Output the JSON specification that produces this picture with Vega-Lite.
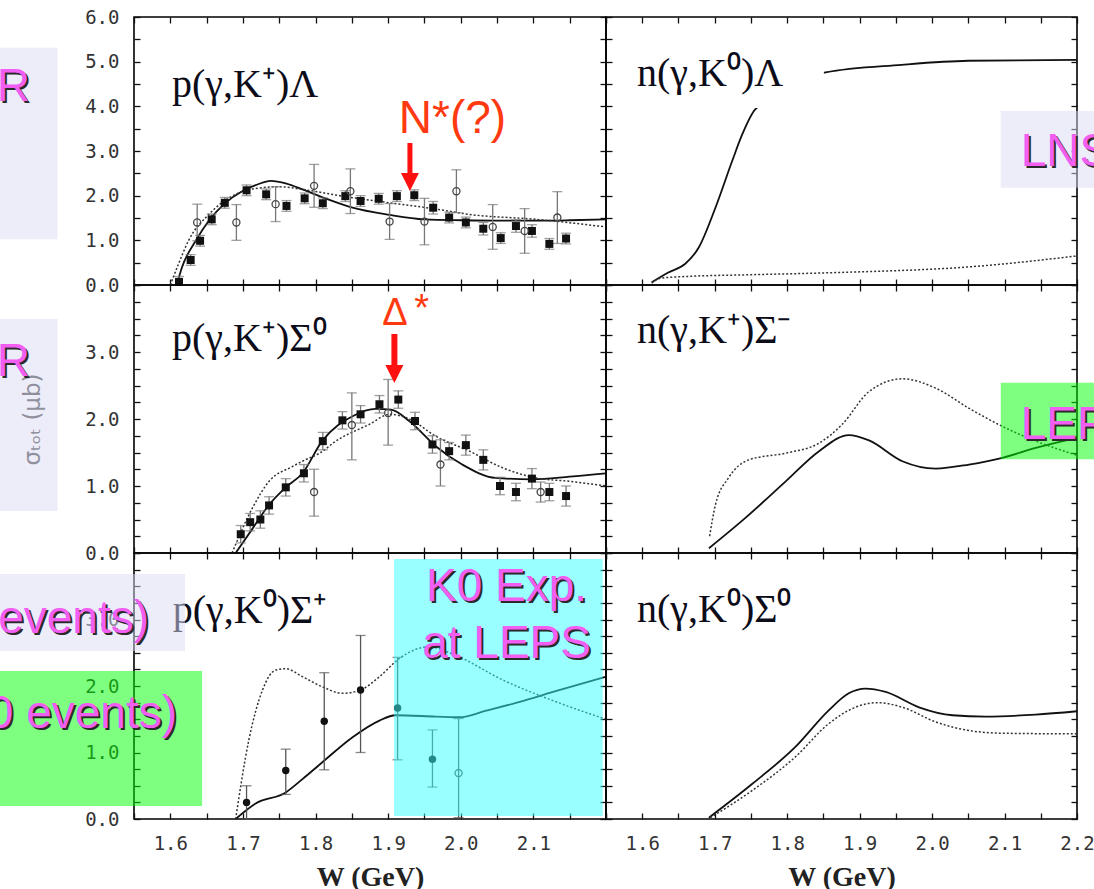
{
"$schema": "https://vega.github.io/schema/vega-lite/v6.json",
"background": "#ffffff",
"padding": {"left": -30, "top": -20, "right": -56, "bottom": -61},
"bounds": "flush",
"spacing": 0,
"columns": 2,
"config": {
  "view": {"stroke": "#000000", "strokeWidth": 1.6},
  "axis": {"domain": false, "grid": false, "ticks": true, "tickSize": -6, "tickColor": "#111111", "tickWidth": 1.3, "labelFont": "DejaVu Sans Mono", "labelFontSize": 19, "labelColor": "#333333", "labelPadding": 21, "labelFlush": false, "labelOverlap": false, "titleFont": "Liberation Serif", "titleFontSize": 28, "titleFontWeight": "bold", "titleColor": "#222222", "titlePadding": 10, "zindex": 0}
},
"datasets": {
"curves": [
{"p":"TL","k":"s","W":1.609,"s":0},{"p":"TL","k":"s","W":1.616,"s":0.39},{"p":"TL","k":"s","W":1.635,"s":0.99},{"p":"TL","k":"s","W":1.653,"s":1.44},{"p":"TL","k":"s","W":1.676,"s":1.84},{"p":"TL","k":"s","W":1.699,"s":2.10},{"p":"TL","k":"s","W":1.72,"s":2.25},{"p":"TL","k":"s","W":1.738,"s":2.33},{"p":"TL","k":"s","W":1.76,"s":2.27},{"p":"TL","k":"s","W":1.782,"s":2.14},{"p":"TL","k":"s","W":1.815,"s":1.93},{"p":"TL","k":"s","W":1.851,"s":1.73},{"p":"TL","k":"s","W":1.902,"s":1.57},{"p":"TL","k":"s","W":1.95,"s":1.47},{"p":"TL","k":"s","W":2.002,"s":1.45},{"p":"TL","k":"s","W":2.058,"s":1.44},{"p":"TL","k":"s","W":2.104,"s":1.44},{"p":"TL","k":"s","W":2.15,"s":1.45},{"p":"TL","k":"s","W":2.2,"s":1.47},
{"p":"TL","k":"d","W":1.6,"s":0},{"p":"TL","k":"d","W":1.612,"s":0.5},{"p":"TL","k":"d","W":1.625,"s":0.99},{"p":"TL","k":"d","W":1.653,"s":1.58},{"p":"TL","k":"d","W":1.69,"s":2.03},{"p":"TL","k":"d","W":1.727,"s":2.18},{"p":"TL","k":"d","W":1.75,"s":2.2},{"p":"TL","k":"d","W":1.782,"s":2.14},{"p":"TL","k":"d","W":1.837,"s":1.99},{"p":"TL","k":"d","W":1.902,"s":1.84},{"p":"TL","k":"d","W":1.966,"s":1.70},{"p":"TL","k":"d","W":2.012,"s":1.58},{"p":"TL","k":"d","W":2.104,"s":1.47},{"p":"TL","k":"d","W":2.2,"s":1.30},
{"p":"TR","k":"s","W":1.613,"s":0.06},{"p":"TR","k":"s","W":1.636,"s":0.28},{"p":"TR","k":"s","W":1.659,"s":0.47},{"p":"TR","k":"s","W":1.678,"s":0.84},{"p":"TR","k":"s","W":1.701,"s":1.73},{"p":"TR","k":"s","W":1.724,"s":2.77},{"p":"TR","k":"s","W":1.738,"s":3.37},{"p":"TR","k":"s","W":1.756,"s":3.93},{"p":"TR","k":"s","W":1.853,"s":4.76},{"p":"TR","k":"s","W":1.958,"s":4.93},{"p":"TR","k":"s","W":2.05,"s":5.02},{"p":"TR","k":"s","W":2.2,"s":5.04},
{"p":"TR","k":"d","W":1.613,"s":0.04},{"p":"TR","k":"d","W":1.625,"s":0.15},{"p":"TR","k":"d","W":1.66,"s":0.19},{"p":"TR","k":"d","W":1.75,"s":0.23},{"p":"TR","k":"d","W":1.871,"s":0.28},{"p":"TR","k":"d","W":2.055,"s":0.41},{"p":"TR","k":"d","W":2.2,"s":0.65},
{"p":"ML","k":"s","W":1.69,"s":0},{"p":"ML","k":"s","W":1.713,"s":0.36},{"p":"ML","k":"s","W":1.736,"s":0.72},{"p":"ML","k":"s","W":1.759,"s":0.98},{"p":"ML","k":"s","W":1.782,"s":1.19},{"p":"ML","k":"s","W":1.809,"s":1.67},{"p":"ML","k":"s","W":1.851,"s":2.04},{"p":"ML","k":"s","W":1.883,"s":2.15},{"p":"ML","k":"s","W":1.904,"s":2.14},{"p":"ML","k":"s","W":1.929,"s":1.97},{"p":"ML","k":"s","W":1.966,"s":1.59},{"p":"ML","k":"s","W":2.002,"s":1.32},{"p":"ML","k":"s","W":2.048,"s":1.12},{"p":"ML","k":"s","W":2.099,"s":1.10},{"p":"ML","k":"s","W":2.15,"s":1.14},{"p":"ML","k":"s","W":2.2,"s":1.19},
{"p":"ML","k":"d","W":1.685,"s":0},{"p":"ML","k":"d","W":1.713,"s":0.67},{"p":"ML","k":"d","W":1.736,"s":1.07},{"p":"ML","k":"d","W":1.768,"s":1.29},{"p":"ML","k":"d","W":1.782,"s":1.37},{"p":"ML","k":"d","W":1.807,"s":1.5},{"p":"ML","k":"d","W":1.828,"s":1.67},{"p":"ML","k":"d","W":1.874,"s":1.92},{"p":"ML","k":"d","W":1.902,"s":2.07},{"p":"ML","k":"d","W":1.929,"s":2.0},{"p":"ML","k":"d","W":1.966,"s":1.74},{"p":"ML","k":"d","W":2.012,"s":1.52},{"p":"ML","k":"d","W":2.058,"s":1.27},{"p":"ML","k":"d","W":2.104,"s":1.12},{"p":"ML","k":"d","W":2.15,"s":1.07},{"p":"ML","k":"d","W":2.2,"s":1.0},
{"p":"MR","k":"s","W":1.692,"s":0.07},{"p":"MR","k":"s","W":1.742,"s":0.52},{"p":"MR","k":"s","W":1.798,"s":1.07},{"p":"MR","k":"s","W":1.844,"s":1.52},{"p":"MR","k":"s","W":1.885,"s":1.76},{"p":"MR","k":"s","W":1.913,"s":1.68},{"p":"MR","k":"s","W":1.959,"s":1.37},{"p":"MR","k":"s","W":2.005,"s":1.26},{"p":"MR","k":"s","W":2.051,"s":1.32},{"p":"MR","k":"s","W":2.097,"s":1.42},{"p":"MR","k":"s","W":2.143,"s":1.57},{"p":"MR","k":"s","W":2.2,"s":1.72},
{"p":"MR","k":"d","W":1.693,"s":0.25},{"p":"MR","k":"d","W":1.701,"s":0.72},{"p":"MR","k":"d","W":1.719,"s":1.12},{"p":"MR","k":"d","W":1.747,"s":1.39},{"p":"MR","k":"d","W":1.798,"s":1.49},{"p":"MR","k":"d","W":1.844,"s":1.64},{"p":"MR","k":"d","W":1.876,"s":1.92},{"p":"MR","k":"d","W":1.913,"s":2.41},{"p":"MR","k":"d","W":1.959,"s":2.6},{"p":"MR","k":"d","W":2.005,"s":2.46},{"p":"MR","k":"d","W":2.051,"s":2.16},{"p":"MR","k":"d","W":2.097,"s":1.89},{"p":"MR","k":"d","W":2.143,"s":1.67},{"p":"MR","k":"d","W":2.2,"s":1.46},
{"p":"BL","k":"s","W":1.69,"s":0},{"p":"BL","k":"s","W":1.717,"s":0.23},{"p":"BL","k":"s","W":1.759,"s":0.40},{"p":"BL","k":"s","W":1.782,"s":0.60},{"p":"BL","k":"s","W":1.809,"s":0.85},{"p":"BL","k":"s","W":1.851,"s":1.23},{"p":"BL","k":"s","W":1.888,"s":1.48},{"p":"BL","k":"s","W":1.91,"s":1.56},{"p":"BL","k":"s","W":1.966,"s":1.54},{"p":"BL","k":"s","W":1.998,"s":1.53},{"p":"BL","k":"s","W":2.035,"s":1.63},{"p":"BL","k":"s","W":2.081,"s":1.76},{"p":"BL","k":"s","W":2.127,"s":1.91},{"p":"BL","k":"s","W":2.2,"s":2.14},
{"p":"BL","k":"d","W":1.69,"s":0},{"p":"BL","k":"d","W":1.708,"s":1.18},{"p":"BL","k":"d","W":1.727,"s":1.94},{"p":"BL","k":"d","W":1.745,"s":2.24},{"p":"BL","k":"d","W":1.759,"s":2.26},{"p":"BL","k":"d","W":1.782,"s":2.14},{"p":"BL","k":"d","W":1.809,"s":1.99},{"p":"BL","k":"d","W":1.837,"s":1.89},{"p":"BL","k":"d","W":1.862,"s":1.94},{"p":"BL","k":"d","W":1.888,"s":2.14},{"p":"BL","k":"d","W":1.915,"s":2.41},{"p":"BL","k":"d","W":1.956,"s":2.59},{"p":"BL","k":"d","W":1.993,"s":2.46},{"p":"BL","k":"d","W":2.058,"s":2.09},{"p":"BL","k":"d","W":2.127,"s":1.78},{"p":"BL","k":"d","W":2.2,"s":1.5},
{"p":"BR","k":"s","W":1.692,"s":0.02},{"p":"BR","k":"s","W":1.752,"s":0.53},{"p":"BR","k":"s","W":1.811,"s":1.08},{"p":"BR","k":"s","W":1.857,"s":1.63},{"p":"BR","k":"s","W":1.885,"s":1.89},{"p":"BR","k":"s","W":1.908,"s":1.96},{"p":"BR","k":"s","W":1.936,"s":1.91},{"p":"BR","k":"s","W":1.982,"s":1.68},{"p":"BR","k":"s","W":2.028,"s":1.56},{"p":"BR","k":"s","W":2.074,"s":1.54},{"p":"BR","k":"s","W":2.143,"s":1.57},{"p":"BR","k":"s","W":2.2,"s":1.62},
{"p":"BR","k":"d","W":1.694,"s":0.02},{"p":"BR","k":"d","W":1.752,"s":0.43},{"p":"BR","k":"d","W":1.811,"s":0.93},{"p":"BR","k":"d","W":1.857,"s":1.43},{"p":"BR","k":"d","W":1.894,"s":1.68},{"p":"BR","k":"d","W":1.925,"s":1.75},{"p":"BR","k":"d","W":1.959,"s":1.68},{"p":"BR","k":"d","W":2.005,"s":1.46},{"p":"BR","k":"d","W":2.051,"s":1.33},{"p":"BR","k":"d","W":2.097,"s":1.29},{"p":"BR","k":"d","W":2.2,"s":1.28}
],
"pts": [
{"p":"TL","t":"f","W":1.612,"s":0.07,"lo":0,"hi":0.19},{"p":"TL","t":"f","W":1.628,"s":0.56,"lo":0.44,"hi":0.68},{"p":"TL","t":"f","W":1.641,"s":0.99,"lo":0.87,"hi":1.11},{"p":"TL","t":"f","W":1.657,"s":1.47,"lo":1.35,"hi":1.59},{"p":"TL","t":"f","W":1.675,"s":1.84,"lo":1.72,"hi":1.96},{"p":"TL","t":"f","W":1.705,"s":2.12,"lo":2.0,"hi":2.24},{"p":"TL","t":"f","W":1.732,"s":2.03,"lo":1.91,"hi":2.15},{"p":"TL","t":"f","W":1.76,"s":1.77,"lo":1.65,"hi":1.89},{"p":"TL","t":"f","W":1.785,"s":1.94,"lo":1.82,"hi":2.06},{"p":"TL","t":"f","W":1.81,"s":1.83,"lo":1.71,"hi":1.95},{"p":"TL","t":"f","W":1.841,"s":1.99,"lo":1.87,"hi":2.11},{"p":"TL","t":"f","W":1.862,"s":1.88,"lo":1.76,"hi":2.0},{"p":"TL","t":"f","W":1.887,"s":1.93,"lo":1.81,"hi":2.05},{"p":"TL","t":"f","W":1.912,"s":1.99,"lo":1.87,"hi":2.11},{"p":"TL","t":"f","W":1.936,"s":2.01,"lo":1.89,"hi":2.13},{"p":"TL","t":"f","W":1.962,"s":1.73,"lo":1.59,"hi":1.87},{"p":"TL","t":"f","W":1.984,"s":1.51,"lo":1.39,"hi":1.63},{"p":"TL","t":"f","W":2.007,"s":1.4,"lo":1.28,"hi":1.52},{"p":"TL","t":"f","W":2.031,"s":1.26,"lo":1.12,"hi":1.4},{"p":"TL","t":"f","W":2.055,"s":1.05,"lo":0.93,"hi":1.17},{"p":"TL","t":"f","W":2.076,"s":1.32,"lo":1.18,"hi":1.46},{"p":"TL","t":"f","W":2.098,"s":1.21,"lo":1.07,"hi":1.35},{"p":"TL","t":"f","W":2.122,"s":0.92,"lo":0.8,"hi":1.04},{"p":"TL","t":"f","W":2.145,"s":1.04,"lo":0.92,"hi":1.16},
{"p":"TL","t":"o","W":1.637,"s":1.4,"lo":0.99,"hi":1.81},{"p":"TL","t":"o","W":1.691,"s":1.4,"lo":1.0,"hi":1.8},{"p":"TL","t":"o","W":1.745,"s":1.81,"lo":1.42,"hi":2.2},{"p":"TL","t":"o","W":1.798,"s":2.22,"lo":1.74,"hi":2.7},{"p":"TL","t":"o","W":1.848,"s":2.1,"lo":1.6,"hi":2.6},{"p":"TL","t":"o","W":1.902,"s":1.42,"lo":1.02,"hi":1.82},{"p":"TL","t":"o","W":1.95,"s":1.42,"lo":0.9,"hi":1.94},{"p":"TL","t":"o","W":1.994,"s":2.1,"lo":1.62,"hi":2.58},{"p":"TL","t":"o","W":2.044,"s":1.3,"lo":0.8,"hi":1.8},{"p":"TL","t":"o","W":2.088,"s":1.21,"lo":0.71,"hi":1.71},{"p":"TL","t":"o","W":2.133,"s":1.51,"lo":0.93,"hi":2.09},
{"p":"ML","t":"f","W":1.697,"s":0.28,"lo":0.15,"hi":0.41},{"p":"ML","t":"f","W":1.71,"s":0.46,"lo":0.33,"hi":0.59},{"p":"ML","t":"f","W":1.724,"s":0.5,"lo":0.37,"hi":0.63},{"p":"ML","t":"f","W":1.736,"s":0.71,"lo":0.58,"hi":0.84},{"p":"ML","t":"f","W":1.759,"s":0.98,"lo":0.85,"hi":1.11},{"p":"ML","t":"f","W":1.784,"s":1.19,"lo":1.06,"hi":1.32},{"p":"ML","t":"f","W":1.81,"s":1.67,"lo":1.54,"hi":1.8},{"p":"ML","t":"f","W":1.837,"s":1.98,"lo":1.85,"hi":2.11},{"p":"ML","t":"f","W":1.862,"s":2.07,"lo":1.94,"hi":2.2},{"p":"ML","t":"f","W":1.888,"s":2.22,"lo":2.09,"hi":2.35},{"p":"ML","t":"f","W":1.914,"s":2.29,"lo":2.16,"hi":2.42},{"p":"ML","t":"f","W":1.937,"s":1.97,"lo":1.84,"hi":2.1},{"p":"ML","t":"f","W":1.961,"s":1.62,"lo":1.49,"hi":1.75},{"p":"ML","t":"f","W":1.984,"s":1.52,"lo":1.39,"hi":1.65},{"p":"ML","t":"f","W":2.007,"s":1.61,"lo":1.46,"hi":1.76},{"p":"ML","t":"f","W":2.031,"s":1.39,"lo":1.24,"hi":1.54},{"p":"ML","t":"f","W":2.054,"s":1.0,"lo":0.87,"hi":1.13},{"p":"ML","t":"f","W":2.076,"s":0.91,"lo":0.78,"hi":1.04},{"p":"ML","t":"f","W":2.098,"s":1.11,"lo":0.96,"hi":1.26},{"p":"ML","t":"f","W":2.122,"s":0.91,"lo":0.78,"hi":1.04},{"p":"ML","t":"f","W":2.145,"s":0.85,"lo":0.7,"hi":1.0},
{"p":"ML","t":"o","W":1.798,"s":0.91,"lo":0.55,"hi":1.25},{"p":"ML","t":"o","W":1.85,"s":1.91,"lo":1.39,"hi":2.39},{"p":"ML","t":"o","W":1.9,"s":2.09,"lo":1.61,"hi":2.59},{"p":"ML","t":"o","W":1.972,"s":1.32,"lo":1.0,"hi":1.69},{"p":"ML","t":"o","W":2.11,"s":0.91,"lo":0.76,"hi":1.06},
{"p":"BL","t":"c","W":1.705,"s":0.25,"lo":0,"hi":0.5},{"p":"BL","t":"c","W":1.759,"s":0.73,"lo":0.37,"hi":1.05},{"p":"BL","t":"c","W":1.812,"s":1.47,"lo":0.74,"hi":2.2},{"p":"BL","t":"c","W":1.862,"s":1.94,"lo":1.0,"hi":2.76},{"p":"BL","t":"c","W":1.913,"s":1.67,"lo":0.89,"hi":2.43},{"p":"BL","t":"c","W":1.961,"s":0.9,"lo":0.48,"hi":1.34},{"p":"BL","t":"o","W":1.997,"s":0.69,"lo":0.02,"hi":1.51}
]
},
"concat": [
{
"width": 472, "height": 268,
"resolve": {"axis": {"x": "independent", "y": "independent"}},
"layer": [
{"data":{"values":[{"W":1.6,"s":0}]},"mark":{"type":"point","opacity":0},"encoding":{"x":{"field":"W","type":"quantitative","scale":{"domain":[1.55,2.2]},"axis":{"orient":"bottom","values":[1.55,1.6,1.65,1.7,1.75,1.8,1.85,1.9,1.95,2,2.05,2.1,2.15,2.2],"labels":false,"title":null}},"y":{"field":"s","type":"quantitative","scale":{"domain":[0,6]},"axis":{"orient":"left","values":[0,0.5,1,1.5,2,2.5,3,3.5,4,4.5,5,5.5,6],"labelExpr":"abs(datum.value-round(datum.value))<0.01 ? format(datum.value,'.1f') : ''","title":null}}}},
{"data":{"values":[{"W":1.6,"s":0}]},"mark":{"type":"point","opacity":0},"encoding":{"x":{"field":"W","type":"quantitative","scale":{"domain":[1.55,2.2]},"axis":{"orient":"top","values":[1.55,1.6,1.65,1.7,1.75,1.8,1.85,1.9,1.95,2,2.05,2.1,2.15,2.2],"labels":false,"title":null}},"y":{"field":"s","type":"quantitative","scale":{"domain":[0,6]},"axis":{"orient":"right","values":[0,0.5,1,1.5,2,2.5,3,3.5,4,4.5,5,5.5,6],"labels":false,"title":null}}}},
{"data":{"name":"curves"},"transform":[{"filter":"datum.p=='TL'&&datum.k=='s'"}],"mark":{"type":"line","color":"#111111","strokeWidth":1.8,"interpolate":"monotone"},"encoding":{"x":{"field":"W","type":"quantitative","scale":{"domain":[1.55,2.2]},"axis":null},"y":{"field":"s","type":"quantitative","scale":{"domain":[0,6]},"axis":null}}},
{"data":{"name":"curves"},"transform":[{"filter":"datum.p=='TL'&&datum.k=='d'"}],"mark":{"type":"line","color":"#333333","strokeWidth":1.5,"strokeDash":[2,2],"interpolate":"monotone"},"encoding":{"x":{"field":"W","type":"quantitative","scale":{"domain":[1.55,2.2]},"axis":null},"y":{"field":"s","type":"quantitative","scale":{"domain":[0,6]},"axis":null}}},
{"data":{"name":"pts"},"transform":[{"filter":"datum.p=='TL'"}],"mark":{"type":"errorbar","ticks":true,"size":10,"thickness":1.3,"color":"#777777"},"encoding":{"x":{"field":"W","type":"quantitative","scale":{"domain":[1.55,2.2]},"axis":null},"y":{"field":"lo","type":"quantitative","scale":{"domain":[0,6]},"axis":null},"y2":{"field":"hi"}}},
{"data":{"name":"pts"},"transform":[{"filter":"datum.p=='TL'&&datum.t=='f'"}],"mark":{"type":"square","size":64,"color":"#111111","opacity":1},"encoding":{"x":{"field":"W","type":"quantitative","scale":{"domain":[1.55,2.2]},"axis":null},"y":{"field":"s","type":"quantitative","scale":{"domain":[0,6]},"axis":null}}},
{"data":{"name":"pts"},"transform":[{"filter":"datum.p=='TL'&&datum.t=='o'"}],"mark":{"type":"point","shape":"circle","filled":false,"size":50,"color":"#444444","strokeWidth":1.3,"opacity":1},"encoding":{"x":{"field":"W","type":"quantitative","scale":{"domain":[1.55,2.2]},"axis":null},"y":{"field":"s","type":"quantitative","scale":{"domain":[0,6]},"axis":null}}},
{"data":{"values":[{"W":1.6024,"s":4.209,"t":"p(γ,K⁺)Λ"}]},"mark":{"type":"text","font":"Liberation Serif","fontSize":40,"align":"left","baseline":"alphabetic","color":"#0d0d1a"},"encoding":{"x":{"field":"W","type":"quantitative","scale":{"domain":[1.55,2.2]},"axis":null},"y":{"field":"s","type":"quantitative","scale":{"domain":[0,6]},"axis":null},"text":{"field":"t"}}},
{"data":{"values":[{"W":1.9886,"s":3.403,"t":"N*(?)"}]},"mark":{"type":"text","font":"Liberation Sans","fontSize":46,"align":"center","baseline":"alphabetic","color":"#ff3a10"},"encoding":{"x":{"field":"W","type":"quantitative","scale":{"domain":[1.55,2.2]},"axis":null},"y":{"field":"s","type":"quantitative","scale":{"domain":[0,6]},"axis":null},"text":{"field":"t"}}},
{"data":{"values":[{"W":1.93,"s":3.179,"s2":2.418}]},"mark":{"type":"rule","color":"#ff1010","strokeWidth":5},"encoding":{"x":{"field":"W","type":"quantitative","scale":{"domain":[1.55,2.2]},"axis":null},"y":{"field":"s","type":"quantitative","scale":{"domain":[0,6]},"axis":null},"y2":{"field":"s2"}}},
{"data":{"values":[{"W":1.93,"s":2.306}]},"mark":{"type":"point","shape":"M-1,-1L1,-1L0,1Z","filled":true,"size":324,"color":"#ff1010","opacity":1},"encoding":{"x":{"field":"W","type":"quantitative","scale":{"domain":[1.55,2.2]},"axis":null},"y":{"field":"s","type":"quantitative","scale":{"domain":[0,6]},"axis":null}}},
{"data":{"values":[{"W":1.3266,"W2":1.4448,"s":5.313,"s2":1.023}]},"mark":{"type":"rect","color":"#dcdcf5","opacity":0.5},"encoding":{"x":{"field":"W","type":"quantitative","scale":{"domain":[1.55,2.2]},"axis":null},"x2":{"field":"W2"},"y":{"field":"s","type":"quantitative","scale":{"domain":[0,6]},"axis":null},"y2":{"field":"s2"}}},
{"data":{"values":[{"W":1.361,"s":4.119,"t":"R"}]},"mark":{"type":"text","font":"Liberation Sans","fontSize":46,"align":"left","baseline":"alphabetic","color":"#2a2a2a","dx":2,"dy":2},"encoding":{"x":{"field":"W","type":"quantitative","scale":{"domain":[1.55,2.2]},"axis":null},"y":{"field":"s","type":"quantitative","scale":{"domain":[0,6]},"axis":null},"text":{"field":"t"}}},
{"data":{"values":[{"W":1.361,"s":4.119,"t":"R"}]},"mark":{"type":"text","font":"Liberation Sans","fontSize":46,"align":"left","baseline":"alphabetic","color":"#f25ef2"},"encoding":{"x":{"field":"W","type":"quantitative","scale":{"domain":[1.55,2.2]},"axis":null},"y":{"field":"s","type":"quantitative","scale":{"domain":[0,6]},"axis":null},"text":{"field":"t"}}},
{"data":{"values":[{"W":1.6,"W2":1.7,"s":6.806,"s2":6.358}]},"mark":{"type":"rect","opacity":0},"encoding":{"x":{"field":"W","type":"quantitative","scale":{"domain":[1.55,2.2]},"axis":null},"x2":{"field":"W2"},"y":{"field":"s","type":"quantitative","scale":{"domain":[0,6]},"axis":null},"y2":{"field":"s2"}}}
]
},
{
"width": 471, "height": 268,
"resolve": {"axis": {"x": "independent", "y": "independent"}},
"layer": [
{"data":{"values":[{"W":1.6,"s":0}]},"mark":{"type":"point","opacity":0},"encoding":{"x":{"field":"W","type":"quantitative","scale":{"domain":[1.55,2.2]},"axis":{"orient":"bottom","values":[1.55,1.6,1.65,1.7,1.75,1.8,1.85,1.9,1.95,2,2.05,2.1,2.15,2.2],"labels":false,"title":null}},"y":{"field":"s","type":"quantitative","scale":{"domain":[0,6]},"axis":{"orient":"left","values":[0,0.5,1,1.5,2,2.5,3,3.5,4,4.5,5,5.5,6],"labels":false,"title":null}}}},
{"data":{"values":[{"W":1.6,"s":0}]},"mark":{"type":"point","opacity":0},"encoding":{"x":{"field":"W","type":"quantitative","scale":{"domain":[1.55,2.2]},"axis":{"orient":"top","values":[1.55,1.6,1.65,1.7,1.75,1.8,1.85,1.9,1.95,2,2.05,2.1,2.15,2.2],"labels":false,"title":null}},"y":{"field":"s","type":"quantitative","scale":{"domain":[0,6]},"axis":{"orient":"right","values":[0,0.5,1,1.5,2,2.5,3,3.5,4,4.5,5,5.5,6],"labels":false,"title":null}}}},
{"data":{"name":"curves"},"transform":[{"filter":"datum.p=='TR'&&datum.k=='s'"}],"mark":{"type":"line","color":"#111111","strokeWidth":1.8,"interpolate":"monotone"},"encoding":{"x":{"field":"W","type":"quantitative","scale":{"domain":[1.55,2.2]},"axis":null},"y":{"field":"s","type":"quantitative","scale":{"domain":[0,6]},"axis":null}}},
{"data":{"name":"curves"},"transform":[{"filter":"datum.p=='TR'&&datum.k=='d'"}],"mark":{"type":"line","color":"#333333","strokeWidth":1.5,"strokeDash":[2,2],"interpolate":"monotone"},"encoding":{"x":{"field":"W","type":"quantitative","scale":{"domain":[1.55,2.2]},"axis":null},"y":{"field":"s","type":"quantitative","scale":{"domain":[0,6]},"axis":null}}},
{"data":{"values":[{"W":1.5859,"W2":1.8507,"s":5.127,"s2":3.963}]},"mark":{"type":"rect","color":"#ffffff"},"encoding":{"x":{"field":"W","type":"quantitative","scale":{"domain":[1.55,2.2]},"axis":null},"x2":{"field":"W2"},"y":{"field":"s","type":"quantitative","scale":{"domain":[0,6]},"axis":null},"y2":{"field":"s2"}}},
{"data":{"values":[{"W":1.5928,"s":4.455,"t":"n(γ,K⁰)Λ"}]},"mark":{"type":"text","font":"Liberation Serif","fontSize":40,"align":"left","baseline":"alphabetic","color":"#0d0d1a"},"encoding":{"x":{"field":"W","type":"quantitative","scale":{"domain":[1.55,2.2]},"axis":null},"y":{"field":"s","type":"quantitative","scale":{"domain":[0,6]},"axis":null},"text":{"field":"t"}}},
{"data":{"values":[{"W":2.0948,"W2":2.3031,"s":3.896,"s2":2.178}]},"mark":{"type":"rect","color":"#dcdcf5","opacity":0.5},"encoding":{"x":{"field":"W","type":"quantitative","scale":{"domain":[1.55,2.2]},"axis":null},"x2":{"field":"W2"},"y":{"field":"s","type":"quantitative","scale":{"domain":[0,6]},"axis":null},"y2":{"field":"s2"}}},
{"data":{"values":[{"W":2.1224,"s":2.664,"t":"LNS"}]},"mark":{"type":"text","font":"Liberation Sans","fontSize":46,"align":"left","baseline":"alphabetic","color":"#2a2a2a","dx":2,"dy":2},"encoding":{"x":{"field":"W","type":"quantitative","scale":{"domain":[1.55,2.2]},"axis":null},"y":{"field":"s","type":"quantitative","scale":{"domain":[0,6]},"axis":null},"text":{"field":"t"}}},
{"data":{"values":[{"W":2.1224,"s":2.664,"t":"LNS"}]},"mark":{"type":"text","font":"Liberation Sans","fontSize":46,"align":"left","baseline":"alphabetic","color":"#f25ef2"},"encoding":{"x":{"field":"W","type":"quantitative","scale":{"domain":[1.55,2.2]},"axis":null},"y":{"field":"s","type":"quantitative","scale":{"domain":[0,6]},"axis":null},"text":{"field":"t"}}}
]
},
{
"width": 472, "height": 268,
"resolve": {"axis": {"x": "independent", "y": "independent"}},
"layer": [
{"data":{"values":[{"W":1.6,"s":0}]},"mark":{"type":"point","opacity":0},"encoding":{"x":{"field":"W","type":"quantitative","scale":{"domain":[1.55,2.2]},"axis":{"orient":"bottom","values":[1.55,1.6,1.65,1.7,1.75,1.8,1.85,1.9,1.95,2,2.05,2.1,2.15,2.2],"labels":false,"title":null}},"y":{"field":"s","type":"quantitative","scale":{"domain":[0,4]},"axis":{"orient":"left","values":[0,0.25,0.5,0.75,1,1.25,1.5,1.75,2,2.25,2.5,2.75,3,3.25,3.5,3.75,4],"labelExpr":"datum.value<3.5 && abs(datum.value-round(datum.value))<0.01 ? format(datum.value,'.1f') : ''","title":"σₜₒₜ (μb)","titleFont":"DejaVu Sans","titleFontSize":23,"titleFontWeight":"normal","titleColor":"#444444","titlePadding":40}}}},
{"data":{"values":[{"W":1.6,"s":0}]},"mark":{"type":"point","opacity":0},"encoding":{"x":{"field":"W","type":"quantitative","scale":{"domain":[1.55,2.2]},"axis":{"orient":"top","values":[1.55,1.6,1.65,1.7,1.75,1.8,1.85,1.9,1.95,2,2.05,2.1,2.15,2.2],"labels":false,"title":null}},"y":{"field":"s","type":"quantitative","scale":{"domain":[0,4]},"axis":{"orient":"right","values":[0,0.25,0.5,0.75,1,1.25,1.5,1.75,2,2.25,2.5,2.75,3,3.25,3.5,3.75,4],"labels":false,"title":null}}}},
{"data":{"name":"curves"},"transform":[{"filter":"datum.p=='ML'&&datum.k=='s'"}],"mark":{"type":"line","color":"#111111","strokeWidth":1.8,"interpolate":"monotone"},"encoding":{"x":{"field":"W","type":"quantitative","scale":{"domain":[1.55,2.2]},"axis":null},"y":{"field":"s","type":"quantitative","scale":{"domain":[0,4]},"axis":null}}},
{"data":{"name":"curves"},"transform":[{"filter":"datum.p=='ML'&&datum.k=='d'"}],"mark":{"type":"line","color":"#333333","strokeWidth":1.5,"strokeDash":[2,2],"interpolate":"monotone"},"encoding":{"x":{"field":"W","type":"quantitative","scale":{"domain":[1.55,2.2]},"axis":null},"y":{"field":"s","type":"quantitative","scale":{"domain":[0,4]},"axis":null}}},
{"data":{"name":"pts"},"transform":[{"filter":"datum.p=='ML'"}],"mark":{"type":"errorbar","ticks":true,"size":10,"thickness":1.3,"color":"#777777"},"encoding":{"x":{"field":"W","type":"quantitative","scale":{"domain":[1.55,2.2]},"axis":null},"y":{"field":"lo","type":"quantitative","scale":{"domain":[0,4]},"axis":null},"y2":{"field":"hi"}}},
{"data":{"name":"pts"},"transform":[{"filter":"datum.p=='ML'&&datum.t=='f'"}],"mark":{"type":"square","size":64,"color":"#111111","opacity":1},"encoding":{"x":{"field":"W","type":"quantitative","scale":{"domain":[1.55,2.2]},"axis":null},"y":{"field":"s","type":"quantitative","scale":{"domain":[0,4]},"axis":null}}},
{"data":{"name":"pts"},"transform":[{"filter":"datum.p=='ML'&&datum.t=='o'"}],"mark":{"type":"point","shape":"circle","filled":false,"size":50,"color":"#444444","strokeWidth":1.3,"opacity":1},"encoding":{"x":{"field":"W","type":"quantitative","scale":{"domain":[1.55,2.2]},"axis":null},"y":{"field":"s","type":"quantitative","scale":{"domain":[0,4]},"axis":null}}},
{"data":{"values":[{"W":1.6024,"s":3.015,"t":"p(γ,K⁺)Σ⁰"}]},"mark":{"type":"text","font":"Liberation Serif","fontSize":40,"align":"left","baseline":"alphabetic","color":"#0d0d1a"},"encoding":{"x":{"field":"W","type":"quantitative","scale":{"domain":[1.55,2.2]},"axis":null},"y":{"field":"s","type":"quantitative","scale":{"domain":[0,4]},"axis":null},"text":{"field":"t"}}},
{"data":{"values":[{"W":1.892,"s":3.403,"t":"Δ"}]},"mark":{"type":"text","font":"Liberation Sans","fontSize":38,"align":"left","baseline":"alphabetic","color":"#ff3a10"},"encoding":{"x":{"field":"W","type":"quantitative","scale":{"domain":[1.55,2.2]},"axis":null},"y":{"field":"s","type":"quantitative","scale":{"domain":[0,4]},"axis":null},"text":{"field":"t"}}},
{"data":{"values":[{"W":1.9358,"s":3.463,"t":"*"}]},"mark":{"type":"text","font":"Liberation Sans","fontSize":38,"align":"left","baseline":"alphabetic","color":"#ff3a10"},"encoding":{"x":{"field":"W","type":"quantitative","scale":{"domain":[1.55,2.2]},"axis":null},"y":{"field":"s","type":"quantitative","scale":{"domain":[0,4]},"axis":null},"text":{"field":"t"}}},
{"data":{"values":[{"W":1.9086,"s":3.269,"s2":2.746}]},"mark":{"type":"rule","color":"#ff1010","strokeWidth":6},"encoding":{"x":{"field":"W","type":"quantitative","scale":{"domain":[1.55,2.2]},"axis":null},"y":{"field":"s","type":"quantitative","scale":{"domain":[0,4]},"axis":null},"y2":{"field":"s2"}}},
{"data":{"values":[{"W":1.9086,"s":2.672}]},"mark":{"type":"point","shape":"M-1,-1L1,-1L0,1Z","filled":true,"size":324,"color":"#ff1010","opacity":1},"encoding":{"x":{"field":"W","type":"quantitative","scale":{"domain":[1.55,2.2]},"axis":null},"y":{"field":"s","type":"quantitative","scale":{"domain":[0,4]},"axis":null}}},
{"data":{"values":[{"W":1.3266,"W2":1.4448,"s":3.493,"s2":0.627}]},"mark":{"type":"rect","color":"#dcdcf5","opacity":0.5},"encoding":{"x":{"field":"W","type":"quantitative","scale":{"domain":[1.55,2.2]},"axis":null},"x2":{"field":"W2"},"y":{"field":"s","type":"quantitative","scale":{"domain":[0,4]},"axis":null},"y2":{"field":"s2"}}},
{"data":{"values":[{"W":1.361,"s":2.642,"t":"R"}]},"mark":{"type":"text","font":"Liberation Sans","fontSize":46,"align":"left","baseline":"alphabetic","color":"#2a2a2a","dx":2,"dy":2},"encoding":{"x":{"field":"W","type":"quantitative","scale":{"domain":[1.55,2.2]},"axis":null},"y":{"field":"s","type":"quantitative","scale":{"domain":[0,4]},"axis":null},"text":{"field":"t"}}},
{"data":{"values":[{"W":1.361,"s":2.642,"t":"R"}]},"mark":{"type":"text","font":"Liberation Sans","fontSize":46,"align":"left","baseline":"alphabetic","color":"#f25ef2"},"encoding":{"x":{"field":"W","type":"quantitative","scale":{"domain":[1.55,2.2]},"axis":null},"y":{"field":"s","type":"quantitative","scale":{"domain":[0,4]},"axis":null},"text":{"field":"t"}}}
]
},
{
"width": 471, "height": 268,
"resolve": {"axis": {"x": "independent", "y": "independent"}},
"layer": [
{"data":{"values":[{"W":1.6,"s":0}]},"mark":{"type":"point","opacity":0},"encoding":{"x":{"field":"W","type":"quantitative","scale":{"domain":[1.55,2.2]},"axis":{"orient":"bottom","values":[1.55,1.6,1.65,1.7,1.75,1.8,1.85,1.9,1.95,2,2.05,2.1,2.15,2.2],"labels":false,"title":null}},"y":{"field":"s","type":"quantitative","scale":{"domain":[0,4]},"axis":{"orient":"left","values":[0,0.25,0.5,0.75,1,1.25,1.5,1.75,2,2.25,2.5,2.75,3,3.25,3.5,3.75,4],"labels":false,"title":null}}}},
{"data":{"values":[{"W":1.6,"s":0}]},"mark":{"type":"point","opacity":0},"encoding":{"x":{"field":"W","type":"quantitative","scale":{"domain":[1.55,2.2]},"axis":{"orient":"top","values":[1.55,1.6,1.65,1.7,1.75,1.8,1.85,1.9,1.95,2,2.05,2.1,2.15,2.2],"labels":false,"title":null}},"y":{"field":"s","type":"quantitative","scale":{"domain":[0,4]},"axis":{"orient":"right","values":[0,0.25,0.5,0.75,1,1.25,1.5,1.75,2,2.25,2.5,2.75,3,3.25,3.5,3.75,4],"labels":false,"title":null}}}},
{"data":{"name":"curves"},"transform":[{"filter":"datum.p=='MR'&&datum.k=='s'"}],"mark":{"type":"line","color":"#111111","strokeWidth":1.8,"interpolate":"monotone"},"encoding":{"x":{"field":"W","type":"quantitative","scale":{"domain":[1.55,2.2]},"axis":null},"y":{"field":"s","type":"quantitative","scale":{"domain":[0,4]},"axis":null}}},
{"data":{"name":"curves"},"transform":[{"filter":"datum.p=='MR'&&datum.k=='d'"}],"mark":{"type":"line","color":"#333333","strokeWidth":1.5,"strokeDash":[2,2],"interpolate":"monotone"},"encoding":{"x":{"field":"W","type":"quantitative","scale":{"domain":[1.55,2.2]},"axis":null},"y":{"field":"s","type":"quantitative","scale":{"domain":[0,4]},"axis":null}}},
{"data":{"values":[{"W":1.5928,"s":3.134,"t":"n(γ,K⁺)Σ⁻"}]},"mark":{"type":"text","font":"Liberation Serif","fontSize":40,"align":"left","baseline":"alphabetic","color":"#0d0d1a"},"encoding":{"x":{"field":"W","type":"quantitative","scale":{"domain":[1.55,2.2]},"axis":null},"y":{"field":"s","type":"quantitative","scale":{"domain":[0,4]},"axis":null},"text":{"field":"t"}}},
{"data":{"values":[{"W":2.0948,"W2":2.3031,"s":2.542,"s2":1.399}]},"mark":{"type":"rect","color":"#00ff00","opacity":0.5},"encoding":{"x":{"field":"W","type":"quantitative","scale":{"domain":[1.55,2.2]},"axis":null},"x2":{"field":"W2"},"y":{"field":"s","type":"quantitative","scale":{"domain":[0,4]},"axis":null},"y2":{"field":"s2"}}},
{"data":{"values":[{"W":2.1224,"s":1.697,"t":"LEPS"}]},"mark":{"type":"text","font":"Liberation Sans","fontSize":46,"align":"left","baseline":"alphabetic","color":"#2a2a2a","dx":2,"dy":2},"encoding":{"x":{"field":"W","type":"quantitative","scale":{"domain":[1.55,2.2]},"axis":null},"y":{"field":"s","type":"quantitative","scale":{"domain":[0,4]},"axis":null},"text":{"field":"t"}}},
{"data":{"values":[{"W":2.1224,"s":1.697,"t":"LEPS"}]},"mark":{"type":"text","font":"Liberation Sans","fontSize":46,"align":"left","baseline":"alphabetic","color":"#f25ef2"},"encoding":{"x":{"field":"W","type":"quantitative","scale":{"domain":[1.55,2.2]},"axis":null},"y":{"field":"s","type":"quantitative","scale":{"domain":[0,4]},"axis":null},"text":{"field":"t"}}}
]
},
{
"width": 472, "height": 266,
"resolve": {"axis": {"x": "independent", "y": "independent"}},
"layer": [
{"data":{"values":[{"W":1.6,"s":0}]},"mark":{"type":"point","opacity":0},"encoding":{"x":{"field":"W","type":"quantitative","scale":{"domain":[1.55,2.2]},"axis":{"orient":"bottom","values":[1.55,1.6,1.65,1.7,1.75,1.8,1.85,1.9,1.95,2,2.05,2.1,2.15,2.2],"labelExpr":"datum.value<2.15 && abs(datum.value*10-round(datum.value*10))<0.01 ? format(datum.value,'.1f') : ''","title":"W (GeV)"}},"y":{"field":"s","type":"quantitative","scale":{"domain":[0,4]},"axis":{"orient":"left","values":[0,0.25,0.5,0.75,1,1.25,1.5,1.75,2,2.25,2.5,2.75,3,3.25,3.5,3.75,4],"labelExpr":"datum.value<3.5 && abs(datum.value-round(datum.value))<0.01 ? format(datum.value,'.1f') : ''","title":null}}}},
{"data":{"values":[{"W":1.6,"s":0}]},"mark":{"type":"point","opacity":0},"encoding":{"x":{"field":"W","type":"quantitative","scale":{"domain":[1.55,2.2]},"axis":{"orient":"top","values":[1.55,1.6,1.65,1.7,1.75,1.8,1.85,1.9,1.95,2,2.05,2.1,2.15,2.2],"labels":false,"title":null}},"y":{"field":"s","type":"quantitative","scale":{"domain":[0,4]},"axis":{"orient":"right","values":[0,0.25,0.5,0.75,1,1.25,1.5,1.75,2,2.25,2.5,2.75,3,3.25,3.5,3.75,4],"labels":false,"title":null}}}},
{"data":{"name":"curves"},"transform":[{"filter":"datum.p=='BL'&&datum.k=='s'"}],"mark":{"type":"line","color":"#111111","strokeWidth":1.8,"interpolate":"monotone"},"encoding":{"x":{"field":"W","type":"quantitative","scale":{"domain":[1.55,2.2]},"axis":null},"y":{"field":"s","type":"quantitative","scale":{"domain":[0,4]},"axis":null}}},
{"data":{"name":"curves"},"transform":[{"filter":"datum.p=='BL'&&datum.k=='d'"}],"mark":{"type":"line","color":"#333333","strokeWidth":1.5,"strokeDash":[2,2],"interpolate":"monotone"},"encoding":{"x":{"field":"W","type":"quantitative","scale":{"domain":[1.55,2.2]},"axis":null},"y":{"field":"s","type":"quantitative","scale":{"domain":[0,4]},"axis":null}}},
{"data":{"name":"pts"},"transform":[{"filter":"datum.p=='BL'"}],"mark":{"type":"errorbar","ticks":true,"size":10,"thickness":1.3,"color":"#555555"},"encoding":{"x":{"field":"W","type":"quantitative","scale":{"domain":[1.55,2.2]},"axis":null},"y":{"field":"lo","type":"quantitative","scale":{"domain":[0,4]},"axis":null},"y2":{"field":"hi"}}},
{"data":{"name":"pts"},"transform":[{"filter":"datum.p=='BL'&&datum.t=='c'"}],"mark":{"type":"circle","size":55,"color":"#111111","opacity":1},"encoding":{"x":{"field":"W","type":"quantitative","scale":{"domain":[1.55,2.2]},"axis":null},"y":{"field":"s","type":"quantitative","scale":{"domain":[0,4]},"axis":null}}},
{"data":{"name":"pts"},"transform":[{"filter":"datum.p=='BL'&&datum.t=='o'"}],"mark":{"type":"point","shape":"circle","filled":false,"size":50,"color":"#444444","strokeWidth":1.3,"opacity":1},"encoding":{"x":{"field":"W","type":"quantitative","scale":{"domain":[1.55,2.2]},"axis":null},"y":{"field":"s","type":"quantitative","scale":{"domain":[0,4]},"axis":null}}},
{"data":{"values":[{"W":1.6034,"s":2.947,"t":"p(γ,K⁰)Σ⁺"}]},"mark":{"type":"text","font":"Liberation Serif","fontSize":40,"align":"left","baseline":"alphabetic","color":"#0d0d1a"},"encoding":{"x":{"field":"W","type":"quantitative","scale":{"domain":[1.55,2.2]},"axis":null},"y":{"field":"s","type":"quantitative","scale":{"domain":[0,4]},"axis":null},"text":{"field":"t"}}},
{"data":{"values":[{"W":1.3266,"W2":1.6203,"s":3.684,"s2":2.526}]},"mark":{"type":"rect","color":"#dcdcf5","opacity":0.5},"encoding":{"x":{"field":"W","type":"quantitative","scale":{"domain":[1.55,2.2]},"axis":null},"x2":{"field":"W2"},"y":{"field":"s","type":"quantitative","scale":{"domain":[0,4]},"axis":null},"y2":{"field":"s2"}}},
{"data":{"values":[{"W":1.3266,"W2":1.6438,"s":2.226,"s2":0.195}]},"mark":{"type":"rect","color":"#00ff00","opacity":0.5},"encoding":{"x":{"field":"W","type":"quantitative","scale":{"domain":[1.55,2.2]},"axis":null},"x2":{"field":"W2"},"y":{"field":"s","type":"quantitative","scale":{"domain":[0,4]},"axis":null},"y2":{"field":"s2"}}},
{"data":{"values":[{"W":1.9082,"W2":2.1955,"s":3.91,"s2":0.045}]},"mark":{"type":"rect","color":"#33ffff","opacity":0.5},"encoding":{"x":{"field":"W","type":"quantitative","scale":{"domain":[1.55,2.2]},"axis":null},"x2":{"field":"W2"},"y":{"field":"s","type":"quantitative","scale":{"domain":[0,4]},"axis":null},"y2":{"field":"s2"}}},
{"data":{"values":[{"W":1.5707,"s":2.802,"t":"events)"},{"W":1.6093,"s":1.373,"t":"0 events)"}]},"mark":{"type":"text","font":"Liberation Sans","fontSize":46,"align":"right","baseline":"alphabetic","color":"#2a2a2a","dx":2,"dy":2},"encoding":{"x":{"field":"W","type":"quantitative","scale":{"domain":[1.55,2.2]},"axis":null},"y":{"field":"s","type":"quantitative","scale":{"domain":[0,4]},"axis":null},"text":{"field":"t"}}},
{"data":{"values":[{"W":1.5707,"s":2.802,"t":"events)"},{"W":1.6093,"s":1.373,"t":"0 events)"}]},"mark":{"type":"text","font":"Liberation Sans","fontSize":46,"align":"right","baseline":"alphabetic","color":"#f25ef2"},"encoding":{"x":{"field":"W","type":"quantitative","scale":{"domain":[1.55,2.2]},"axis":null},"y":{"field":"s","type":"quantitative","scale":{"domain":[0,4]},"axis":null},"text":{"field":"t"}}},
{"data":{"values":[{"W":2.0631,"s":3.278,"t":"K0 Exp."},{"W":2.0631,"s":2.426,"t":"at LEPS"}]},"mark":{"type":"text","font":"Liberation Sans","fontSize":46,"align":"center","baseline":"alphabetic","color":"#2a2a2a","dx":2,"dy":2},"encoding":{"x":{"field":"W","type":"quantitative","scale":{"domain":[1.55,2.2]},"axis":null},"y":{"field":"s","type":"quantitative","scale":{"domain":[0,4]},"axis":null},"text":{"field":"t"}}},
{"data":{"values":[{"W":2.0631,"s":3.278,"t":"K0 Exp."},{"W":2.0631,"s":2.426,"t":"at LEPS"}]},"mark":{"type":"text","font":"Liberation Sans","fontSize":46,"align":"center","baseline":"alphabetic","color":"#f25ef2"},"encoding":{"x":{"field":"W","type":"quantitative","scale":{"domain":[1.55,2.2]},"axis":null},"y":{"field":"s","type":"quantitative","scale":{"domain":[0,4]},"axis":null},"text":{"field":"t"}}}
]
},
{
"width": 471, "height": 266,
"resolve": {"axis": {"x": "independent", "y": "independent"}},
"layer": [
{"data":{"values":[{"W":1.6,"s":0}]},"mark":{"type":"point","opacity":0},"encoding":{"x":{"field":"W","type":"quantitative","scale":{"domain":[1.55,2.2]},"axis":{"orient":"bottom","values":[1.55,1.6,1.65,1.7,1.75,1.8,1.85,1.9,1.95,2,2.05,2.1,2.15,2.2],"labelExpr":"abs(datum.value*10-round(datum.value*10))<0.01 ? format(datum.value,'.1f') : ''","title":"W (GeV)"}},"y":{"field":"s","type":"quantitative","scale":{"domain":[0,4]},"axis":{"orient":"left","values":[0,0.25,0.5,0.75,1,1.25,1.5,1.75,2,2.25,2.5,2.75,3,3.25,3.5,3.75,4],"labels":false,"title":null}}}},
{"data":{"values":[{"W":1.6,"s":0}]},"mark":{"type":"point","opacity":0},"encoding":{"x":{"field":"W","type":"quantitative","scale":{"domain":[1.55,2.2]},"axis":{"orient":"top","values":[1.55,1.6,1.65,1.7,1.75,1.8,1.85,1.9,1.95,2,2.05,2.1,2.15,2.2],"labels":false,"title":null}},"y":{"field":"s","type":"quantitative","scale":{"domain":[0,4]},"axis":{"orient":"right","values":[0,0.25,0.5,0.75,1,1.25,1.5,1.75,2,2.25,2.5,2.75,3,3.25,3.5,3.75,4],"labels":false,"title":null}}}},
{"data":{"name":"curves"},"transform":[{"filter":"datum.p=='BR'&&datum.k=='s'"}],"mark":{"type":"line","color":"#111111","strokeWidth":1.8,"interpolate":"monotone"},"encoding":{"x":{"field":"W","type":"quantitative","scale":{"domain":[1.55,2.2]},"axis":null},"y":{"field":"s","type":"quantitative","scale":{"domain":[0,4]},"axis":null}}},
{"data":{"name":"curves"},"transform":[{"filter":"datum.p=='BR'&&datum.k=='d'"}],"mark":{"type":"line","color":"#333333","strokeWidth":1.5,"strokeDash":[2,2],"interpolate":"monotone"},"encoding":{"x":{"field":"W","type":"quantitative","scale":{"domain":[1.55,2.2]},"axis":null},"y":{"field":"s","type":"quantitative","scale":{"domain":[0,4]},"axis":null}}},
{"data":{"values":[{"W":1.5928,"s":2.962,"t":"n(γ,K⁰)Σ⁰"}]},"mark":{"type":"text","font":"Liberation Serif","fontSize":40,"align":"left","baseline":"alphabetic","color":"#0d0d1a"},"encoding":{"x":{"field":"W","type":"quantitative","scale":{"domain":[1.55,2.2]},"axis":null},"y":{"field":"s","type":"quantitative","scale":{"domain":[0,4]},"axis":null},"text":{"field":"t"}}},
{"data":{"values":[{"W":1.6,"W2":1.7,"s":-1.233,"s2":-1.985}]},"mark":{"type":"rect","opacity":0},"encoding":{"x":{"field":"W","type":"quantitative","scale":{"domain":[1.55,2.2]},"axis":null},"x2":{"field":"W2"},"y":{"field":"s","type":"quantitative","scale":{"domain":[0,4]},"axis":null},"y2":{"field":"s2"}}}
]
}
]
}
